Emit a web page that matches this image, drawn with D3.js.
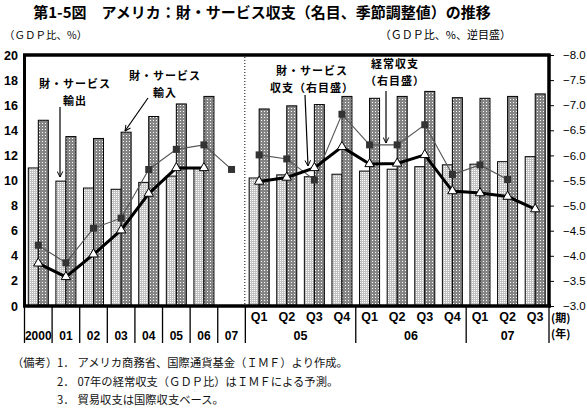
<!DOCTYPE html>
<html><head><meta charset="utf-8">
<script src="https://cdn.jsdelivr.net/npm/d3@7"></script>
<style>
html,body{margin:0;padding:0;background:#fff;}
svg{display:block;}
</style></head>
<body>
<svg id="c" width="587" height="408"></svg>
<script>
// ---- data ----
const annualYears = ["2000","01","02","03","04","05","06","07"];
const quarterLabels = ["Q1","Q2","Q3","Q4","Q1","Q2","Q3","Q4","Q1","Q2","Q3"];
const quarterYears = ["05","06","07"];
const quarterYearSpan = [4,4,3];
// goods & services exports, % of GDP (left axis)
const exportsGDP = [11.0, 9.95, 9.4, 9.3, 9.85, 10.35, 11.0, null,
                    10.2, 10.45, 10.3, 10.5, 10.75, 10.9, 11.1, 11.25, 11.3, 11.5, 11.9];
// goods & services imports, % of GDP (left axis)
const importsGDP = [14.8, 13.5, 13.35, 13.85, 15.1, 16.1, 16.7, null,
                    15.7, 15.95, 16.05, 16.7, 16.55, 16.7, 17.1, 16.6, 16.55, 16.7, 16.9];
// current account, % of GDP (right axis, reversed)
const currentAccount = [-4.21, -3.86, -4.55, -4.75, -5.72, -6.12, -6.21, -5.72,
                        -6.01, -5.93, -5.51, -6.82, -6.21, -6.21, -6.61, -5.62, -5.81, -5.52, null];
// goods & services balance, % of GDP (right axis, reversed)
const gsBalance = [-3.85, -3.58, -4.03, -4.51, -5.24, -5.75, -5.75, null,
                   -5.48, -5.56, -5.75, -6.17, -5.83, -5.84, -6.01, -5.29, -5.25, -5.18, -4.93];
const leftTicks = [0,2,4,6,8,10,12,14,16,18,20];
const rightTicks = [-8,-7.5,-7,-6.5,-6,-5.5,-5,-4.5,-4,-3.5,-3];

// ---- build ----
const keys = annualYears.map(d=>"Y"+d).concat(quarterLabels.map((q,i)=>"Q"+i));
const nA = annualYears.length;
const rows = keys.map((k,i)=>({k, ex:exportsGDP[i], im:importsGDP[i], ca:currentAccount[i], gs:gsBalance[i], annual:i<nA}));

const svg = d3.select("#c");
const x = d3.scaleBand().domain(keys).range([24.5,549]).padding(0);
const yL = d3.scaleLinear().domain([0,20]).range([306,55]);
const yR = d3.scaleLinear().domain([-3,-8]).range([306,55]);
const bw = x.bandwidth();
const cx = k => x(k)+bw/2;
const FONT_NUM = "'Liberation Sans', Arial, sans-serif";
const FONT_JP = "'Noto Sans CJK JP', sans-serif";

// patterns
const defs = svg.append("defs");
const pL = defs.append("pattern").attr("id","pLight").attr("width",2).attr("height",2).attr("patternUnits","userSpaceOnUse");
pL.append("rect").attr("width",2).attr("height",2).attr("fill","#c2c2c2");
pL.append("rect").attr("width",1).attr("height",1).attr("fill","#ffffff");
const pD = defs.append("pattern").attr("id","pDark").attr("width",3).attr("height",3).attr("patternUnits","userSpaceOnUse");
pD.append("rect").attr("width",3).attr("height",3).attr("fill","#858585");
pD.append("rect").attr("width",1).attr("height",1).attr("fill","#ffffff");
const mk = defs.append("marker").attr("id","arr").attr("viewBox","0 0 10 10").attr("refX",9).attr("refY",5)
  .attr("markerWidth",7).attr("markerHeight",7).attr("orient","auto").attr("markerUnits","userSpaceOnUse");
mk.append("path").attr("d","M1,1 L9,5 L1,9").attr("fill","none").attr("stroke","#000").attr("stroke-width",1.4);

// title
svg.append("text").attr("x",262).attr("y",18).attr("text-anchor","middle")
  .attr("font-family",FONT_JP).attr("font-weight","bold").attr("font-size",15)
  .text("第1-5図　アメリカ：財・サービス収支（名目、季節調整値）の推移");
svg.append("text").attr("x",4).attr("y",39).attr("font-family",FONT_JP).attr("font-size",10.5)
  .text("（ＧＤＰ比、%）");
svg.append("text").attr("x",511).attr("y",39).attr("text-anchor","end").attr("font-family",FONT_JP).attr("font-size",11)
  .text("（ＧＤＰ比、%、逆目盛）");

// bars
const bars = svg.append("g");
bars.selectAll("rect.ex").data(rows.filter(d=>d.ex!=null)).join("rect").attr("class","ex")
  .attr("x",d=>cx(d.k)-10).attr("width",10).attr("y",d=>yL(d.ex)).attr("height",d=>yL(0)-yL(d.ex))
  .attr("fill","url(#pLight)").attr("stroke","#000").attr("stroke-width",1);
bars.selectAll("rect.im").data(rows.filter(d=>d.im!=null)).join("rect").attr("class","im")
  .attr("x",d=>cx(d.k)).attr("width",10).attr("y",d=>yL(d.im)).attr("height",d=>yL(0)-yL(d.im))
  .attr("fill","url(#pDark)").attr("stroke","#000").attr("stroke-width",1);

// dotted separator
const sepX = x(keys[nA])-0.5;
svg.append("line").attr("x1",sepX).attr("x2",sepX).attr("y1",57).attr("y2",305)
  .attr("stroke","#000").attr("stroke-width",1).attr("stroke-dasharray","1,2");

// lines
const segA = rows.slice(0,nA), segQ = rows.slice(nA);
const lineCA = d3.line().defined(d=>d.ca!=null).x(d=>cx(d.k)).y(d=>yR(d.ca));
const lineGS = d3.line().defined(d=>d.gs!=null).x(d=>cx(d.k)).y(d=>yR(d.gs));
[segA,segQ].forEach(s=>{
  svg.append("path").attr("d",lineCA(s)).attr("fill","none").attr("stroke","#555").attr("stroke-width",1.1);
});
[segA,segQ].forEach(s=>{
  svg.append("path").attr("d",lineGS(s)).attr("fill","none").attr("stroke","#000").attr("stroke-width",3);
});
svg.selectAll("rect.sq").data(rows.filter(d=>d.ca!=null)).join("rect").attr("class","sq")
  .attr("x",d=>cx(d.k)-3.5).attr("y",d=>yR(d.ca)-3.5).attr("width",7).attr("height",7).attr("fill","#333");
svg.selectAll("path.tri").data(rows.filter(d=>d.gs!=null)).join("path").attr("class","tri")
  .attr("d",d3.symbol().type(d3.symbolTriangle).size(38))
  .attr("transform",d=>`translate(${cx(d.k)},${yR(d.gs)})`)
  .attr("fill","#fff").attr("stroke","#000").attr("stroke-width",1);

// frame
svg.append("line").attr("x1",23).attr("x2",550.5).attr("y1",55).attr("y2",55).attr("stroke","#000").attr("stroke-width",3.5);
svg.append("line").attr("x1",24.5).attr("x2",24.5).attr("y1",54).attr("y2",307).attr("stroke","#000").attr("stroke-width",3);
svg.append("line").attr("x1",549).attr("x2",549).attr("y1",54).attr("y2",307).attr("stroke","#000").attr("stroke-width",3.5);
svg.append("line").attr("x1",23).attr("x2",551).attr("y1",306).attr("y2",306).attr("stroke","#000").attr("stroke-width",3.5);

// left axis
const gL = svg.append("g").attr("transform","translate(24,0)")
  .call(d3.axisLeft(yL).tickValues(leftTicks).tickSize(0).tickPadding(6).tickFormat(d3.format("d")));
gL.select(".domain").remove();
gL.selectAll("text").attr("font-family",FONT_NUM).attr("font-size",12.5).attr("font-weight","bold").attr("fill","#000");

// right axis
const gR = svg.append("g").attr("transform","translate(550,0)")
  .call(d3.axisRight(yR).tickValues(rightTicks).tickSize(4).tickPadding(9).tickFormat(d3.format(".1f")));
gR.select(".domain").remove();
gR.selectAll("line").attr("stroke","#000").attr("stroke-width",1);
gR.selectAll("text").attr("font-family",FONT_NUM).attr("font-size",11.5).attr("fill","#000");

// x-axis category separators
const gx = svg.append("g");
const annualBounds = d3.range(nA+1).map(i=> i<keys.length ? x(keys[i]) : 549);
annualBounds.forEach(b=>{
  gx.append("line").attr("x1",b).attr("x2",b).attr("y1",306).attr("y2",343).attr("stroke","#000").attr("stroke-width",1.3);
});
let qi = nA;
const qBounds = [];
quarterYears.forEach((yy,j)=>{
  const start = x(keys[qi]);
  const endIdx = qi + quarterYearSpan[j];
  const end = endIdx < keys.length ? x(keys[endIdx]) : x(keys[keys.length-1])+bw;
  qBounds.push(end);
  gx.append("text").attr("x",(start+end)/2).attr("y",340).attr("text-anchor","middle")
    .attr("font-family",FONT_NUM).attr("font-size",12.5).attr("font-weight","bold").text(yy);
  qi = endIdx;
});
qBounds.forEach(b=>{
  gx.append("line").attr("x1",b).attr("x2",b).attr("y1",306).attr("y2",343).attr("stroke","#000").attr("stroke-width",1.3);
});
annualYears.forEach((a,i)=>{
  gx.append("text").attr("x",cx(keys[i])).attr("y",340).attr("text-anchor","middle")
    .attr("font-family",FONT_NUM).attr("font-size",12).attr("font-weight","bold").text(a);
});
quarterLabels.forEach((q,i)=>{
  gx.append("text").attr("x",cx(keys[nA+i])).attr("y",321).attr("text-anchor","middle")
    .attr("font-family",FONT_NUM).attr("font-size",12.5).attr("font-weight","bold").text(q);
});
svg.append("text").attr("x",551).attr("y",322).attr("font-family",FONT_JP).attr("font-size",11).attr("font-weight","bold").text("(期)");
svg.append("text").attr("x",551).attr("y",338).attr("font-family",FONT_JP).attr("font-size",11).attr("font-weight","bold").text("(年)");

// annotations
const ann = [
  {lines:["財・サービス","輸出"], x:75, y:[88,104.5], arrow:[60,107,60,177]},
  {lines:["財・サービス","輸入"], x:165, y:[80,96.5], arrow:[148,98,125,131]},
  {lines:["財・サービス","収支（右目盛）"], x:312, y:[75,91.5], arrow:[305,95,308,166]},
  {lines:["経常収支","（右目盛）"], x:395, y:[68,84.5], arrow:[386,91,386,143]}
];
ann.forEach(a=>{
  a.lines.forEach((t,i)=>{
    svg.append("text").attr("x",a.x).attr("y",a.y[i]).attr("text-anchor","middle")
      .attr("font-family",FONT_JP).attr("font-weight","bold").attr("font-size",11)
      .attr("letter-spacing",1).text(t);
  });
  svg.append("line").attr("x1",a.arrow[0]).attr("y1",a.arrow[1]).attr("x2",a.arrow[2]).attr("y2",a.arrow[3])
    .attr("stroke","#000").attr("stroke-width",1.2).attr("marker-end","url(#arr)");
});

// notes
const notes = [
  {x:12, y:367, t:"（備考）"},
  {x:57, y:367, t:"1．"},
  {x:77.5, y:367, t:"アメリカ商務省、国際通貨基金（ＩＭＦ）より作成。"},
  {x:57, y:385.5, t:"2．"},
  {x:77.5, y:385.5, t:"07年の経常収支（ＧＤＰ比）はＩＭＦによる予測。"},
  {x:57, y:403.5, t:"3．"},
  {x:77.5, y:403.5, t:"貿易収支は国際収支ベース。"}
];
notes.forEach(n=>{
  svg.append("text").attr("x",n.x).attr("y",n.y).attr("font-family",FONT_JP).attr("font-size",11.3).attr("fill","#111").text(n.t);
});
</script>
</body></html>
